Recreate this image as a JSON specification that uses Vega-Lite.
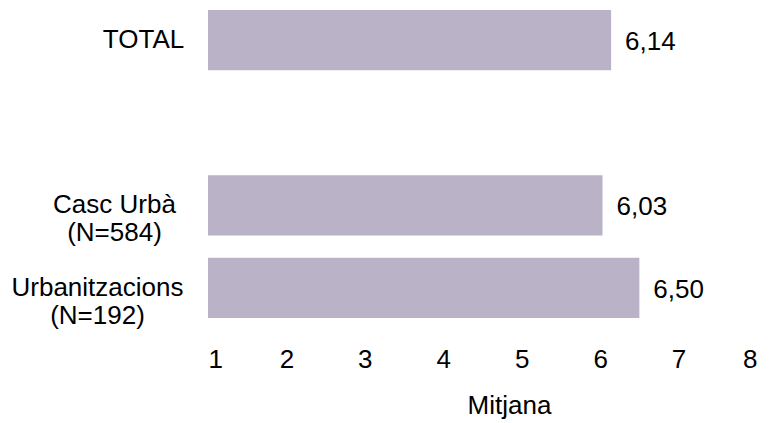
{
  "$schema": "https://vega.github.io/schema/vega-lite/v6.json",
  "autosize": "none",
  "width": 549,
  "height": 328,
  "padding": {"left": 208, "top": 0, "right": 13, "bottom": 95},
  "background": "white",
  "config": {
    "view": {"stroke": null},
    "font": "Liberation Sans",
    "locale": {"number": {"decimal": ",", "thousands": ".", "grouping": [3], "currency": ["", " €"]}}
  },
  "data": {
    "values": [
      {"cat": "TOTAL", "mitjana": 6.14},
      {"cat": "Casc Urbà|(N=584)", "mitjana": 6.03},
      {"cat": "Urbanitzacions|(N=192)", "mitjana": 6.50}
    ]
  },
  "encoding": {
    "y": {
      "field": "cat",
      "type": "nominal",
      "scale": {"domain": ["TOTAL", " ", "Casc Urbà|(N=584)", "Urbanitzacions|(N=192)"], "paddingInner": 0.27, "paddingOuter": 0.12},
      "axis": {
        "title": null,
        "domain": false,
        "ticks": false,
        "labelExpr": "split(datum.value, '|')",
        "labelFontSize": 26,
        "labelColor": "#000000",
        "labelAlign": "center",
        "labelPadding": {
          "condition": [
            {"test": "datum.value == 'TOTAL'", "value": 65},
            {"test": "datum.value == 'Casc Urbà|(N=584)'", "value": 94}
          ],
          "value": 111
        },
        "labelLineHeight": 28
      }
    }
  },
  "layer": [
    {
      "mark": {"type": "bar", "color": "#bab3c8"},
      "encoding": {
        "x": {
          "field": "mitjana",
          "type": "quantitative",
          "scale": {"domain": [1, 8], "nice": false, "zero": false},
          "axis": {
            "title": "Mitjana",
            "values": [1, 2, 3, 4, 5, 6, 7, 8],
            "format": "d",
            "domain": false,
            "ticks": false,
            "grid": false,
            "labelFontSize": 26,
            "labelColor": "#000000",
            "labelPadding": 18,
            "titleFontSize": 26,
            "titleFontWeight": "normal",
            "titleColor": "#000000",
            "titlePadding": 20,
            "titleX": 301
          }
        },
        "x2": {"datum": 1}
      }
    },
    {
      "mark": {"type": "text", "align": "left", "baseline": "middle", "dx": 14, "dy": 2, "fontSize": 26, "color": "#000000"},
      "encoding": {
        "x": {"field": "mitjana", "type": "quantitative"},
        "text": {"field": "mitjana", "type": "quantitative", "format": ".2f"}
      }
    }
  ]
}
